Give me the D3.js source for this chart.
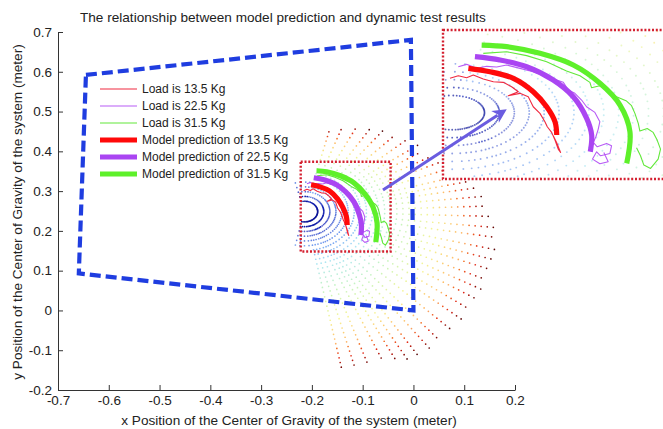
<!DOCTYPE html>
<html><head><meta charset="utf-8">
<script src="https://cdn.jsdelivr.net/npm/d3@7/dist/d3.min.js"></script>
<style>
body{margin:0;background:#fff}
svg{display:block}
text{font-family:"Liberation Sans",Arial,sans-serif;fill:#222}
</style></head>
<body><svg id="chart" width="663" height="429"></svg>
<script>
// ---------------- data ----------------
const titleText = "The relationship between model prediction and dynamic test results";
const xLabel = "x Position of the Center of Gravity of the system (meter)";
const yLabel = "y Position of the Center of Gravity of the system (meter)";
const xTicks = [-0.7,-0.6,-0.5,-0.4,-0.3,-0.2,-0.1,0,0.1,0.2];
const yTicks = [-0.2,-0.1,0,0.1,0.2,0.3,0.4,0.5,0.6,0.7];

// workspace boundary (blue dashed)
const workspaceX = [-0.645,-0.005,0.0,-0.659];
const workspaceY = [0.592,0.680,0.0,0.093];

// fan of simulated CoG positions (polar grid around a centre)
const fanCenter = [-0.2146, 0.2487];
const fanAngles = [104,96,88,82,
  76.5,70.7,64.3,58.2,52.8,47.2,41.9,36.8,33.1,29.0,24.9,20.7,16.4,13.2,10.0,6.2,2.2,
  -1.9,-6.1,-9.8,-14.3,-18.0,-21.7,-25.6,-29.3,-33.0,-37.1,-41.2,-45.8,-50.6,-54.4,
  -58.3,-61.4,-64.3,-67.7,-72.0,-75.8,-79.5,
  -84,-90,-96,-102];
const fanReach = [0.40,0.40,0.40,0.40,
  0.2175,0.226,0.240,0.243,0.254,0.263,0.275,0.280,0.276,0.289,0.306,0.319,0.330,0.337,0.3445,0.3512,0.3564,
  0.3622,0.3788,0.3841,0.3885,0.3892,0.3944,0.3945,0.4008,0.4059,0.4098,0.4120,0.4135,0.4219,0.4266,
  0.4221,0.4229,0.4206,0.4091,0.4076,0.4095,0.4078,
  0.41,0.41,0.41,0.41];
const fanShown = [0.21,0.21,0.21,0.21,
  1,1,1,1,1,1,1,1,1,1,1,1,1,1,1,1,1,
  1,1,1,1,1,1,1,1,1,1,1,1,1,1,
  1,1,1,1,1,1,1,
  0.21,0.21,0.21,0.21];
const fanRadii = [0.026,0.038,0.050,0.062,0.074,0.086,0.098,0.110,0.122,0.134,0.146,0.158,
  0.170,0.182,0.194,0.206,0.218,0.230,0.242,0.254,0.266,0.278,0.290,0.302,0.314,0.326,
  0.338,0.350,0.362,0.374,0.386,0.398,0.410,0.422,0.434];

// model predictions (thick)
const model135 = [[-0.2016,0.3159],[-0.1842,0.3107],[-0.1654,0.3007],[-0.1494,0.2804],[-0.1386,0.2576],[-0.1319,0.2349],[-0.1305,0.2147]];
const model225 = [[-0.1963,0.3335],[-0.1761,0.3285],[-0.1547,0.3183],[-0.1333,0.2981],[-0.1172,0.2728],[-0.1064,0.2400],[-0.1024,0.2147],[-0.1035,0.1893]];
const model315 = [[-0.1909,0.3512],[-0.1708,0.3487],[-0.1440,0.3386],[-0.1172,0.3209],[-0.0957,0.2931],[-0.0796,0.2602],[-0.0716,0.2197],[-0.0742,0.1717]];

// dynamic test results (thin)
const load135 = [[-0.2164,0.3007],[-0.2097,0.3047],[-0.2030,0.3017],[-0.1976,0.3057],[-0.1896,0.2996],[-0.1815,0.2956],
  [-0.1735,0.2946],[-0.1668,0.2880],[-0.1614,0.2804],[-0.1695,0.2743],[-0.1601,0.2779],[-0.1534,0.2728],[-0.1494,0.2576],
  [-0.1440,0.2475],[-0.1400,0.2349],[-0.1381,0.2273],[-0.1346,0.2187],[-0.1319,0.2070],[-0.1293,0.1934],[-0.1274,0.1883],
  [-0.1306,0.2035],[-0.1333,0.2136]];
const load225 = [[-0.2097,0.3183],[-0.2030,0.3219],[-0.1949,0.3158],[-0.1869,0.3189],[-0.1788,0.3178],[-0.1708,0.3209],
  [-0.1601,0.3158],[-0.1494,0.3108],[-0.1360,0.3017],[-0.1252,0.2946],[-0.1212,0.2829],[-0.1159,0.2779],[-0.1105,0.2678],
  [-0.1065,0.2576],[-0.0998,0.2490],[-0.0958,0.2349],[-0.0971,0.2237],[-0.0990,0.2121],[-0.1011,0.2035],[-0.0979,0.1969],
  [-0.0904,0.2020],[-0.0864,0.1984],[-0.0877,0.1868],[-0.0952,0.1832],[-0.0984,0.1893],[-0.1017,0.1782],[-0.0958,0.1711],
  [-0.0891,0.1741],[-0.0926,0.1883]];
const load315 = [[-0.1896,0.3386],[-0.1708,0.3411],[-0.1547,0.3351],[-0.1386,0.3259],[-0.1226,0.3118],[-0.1118,0.3047],
  [-0.1038,0.2946],[-0.1025,0.2865],[-0.0958,0.2895],[-0.0904,0.2824],[-0.0824,0.2728],[-0.0743,0.2662],[-0.0703,0.2592],
  [-0.0676,0.2475],[-0.0649,0.2323],[-0.0636,0.2207],[-0.0577,0.2247],[-0.0529,0.2187],[-0.0497,0.2070],[-0.0470,0.1934],
  [-0.0489,0.1782],[-0.0550,0.1640],[-0.0604,0.1691],[-0.0631,0.1832],[-0.0663,0.1954]];

const legendLabels = ["Load is 13.5 Kg","Load is 22.5 Kg","Load is 31.5 Kg",
  "Model prediction of 13.5 Kg","Model prediction of 22.5 Kg","Model prediction of 31.5 Kg"];

// zoomed region and arrow
const zoomX = [-0.222,-0.045];
const zoomY = [0.148,0.374];
const arrowFrom = [-0.060,0.3028];   // main axes
const arrowTo = [-0.1707,0.2537];    // inset axes

// ---------------- styles ----------------
const cRed="#ff0a0a", cPurple="#aa45f2", cGreen="#5ef02a";
const cRedThin="#f02a40", cPurpleThin="#b85cf5", cGreenThin="#62e83a";
const fanColor = d3.scaleLinear()
  .domain([0,0.12,0.22,0.32,0.5,0.68,0.82,0.92,1])
  .range(["#000070","#1424b8","#4a86ee","#8fdcf0","#b4f0a8","#f2f070","#ffa030","#e02414","#500000"])
  .clamp(true);

const svg = d3.select("#chart");
const x = d3.scaleLinear().domain([-0.7,0.2]).range([58,515]);
const y = d3.scaleLinear().domain([-0.2,0.7]).range([390,32]);
const xi = d3.scaleLinear().domain(zoomX).range([443,663]);
const yi = d3.scaleLinear().domain(zoomY).range([179,30]);

const fanDots=[];
fanAngles.forEach((a,i)=>{
  const rad=a*Math.PI/180;
  fanRadii.forEach(r=>{
    if(r<=fanReach[i]*fanShown[i]+1e-9){
      fanDots.push({x:fanCenter[0]+r*Math.cos(rad), y:fanCenter[1]+r*Math.sin(rad), t:Math.min(1,r/fanReach[i])});
    }
  });
});

const defs = svg.append("defs");
defs.append("clipPath").attr("id","plotclip").append("rect").attr("x",58).attr("y",32).attr("width",457).attr("height",358);
defs.append("clipPath").attr("id","insetclip").append("rect").attr("x",443).attr("y",30).attr("width",220).attr("height",149);

function drawData(g, sx, sy, dotR, dotOp){
  g.selectAll("circle.fan").data(fanDots).join("circle").attr("class","fan")
    .attr("cx",d=>sx(d.x)).attr("cy",d=>sy(d.y)).attr("r",dotR).attr("fill",d=>fanColor(d.t))
    .attr("fill-opacity",d=>Math.min(1,dotOp*(d.t>0.85||d.t<0.12?1.35:1)));
  const line = d3.line().x(d=>sx(d[0])).y(d=>sy(d[1]));
  const smooth = d3.line().x(d=>sx(d[0])).y(d=>sy(d[1])).curve(d3.curveCatmullRom);
  [[load135,cRedThin],[load225,cPurpleThin],[load315,cGreenThin]].forEach(([d,c])=>{
    g.append("path").attr("d",line(d)).attr("fill","none").attr("stroke",c).attr("stroke-width",1.1).attr("stroke-linejoin","round");
  });
  [[model135,cRed],[model225,cPurple],[model315,cGreen]].forEach(([d,c])=>{
    g.append("path").attr("d",smooth(d)).attr("fill","none").attr("stroke",c).attr("stroke-width",5.2).attr("stroke-linecap","butt");
  });
}

// main plot
const main = svg.append("g").attr("clip-path","url(#plotclip)");
drawData(main, x, y, 0.85, 0.75);

// workspace polygon
const ws = workspaceX.map((v,i)=>[v,workspaceY[i]]);
svg.append("path").attr("d", d3.line().x(d=>x(d[0])).y(d=>y(d[1]))(ws.concat([ws[0]])))
  .attr("fill","none").attr("stroke","#1f3de0").attr("stroke-width",4.2).attr("stroke-dasharray","11 5");

// legend
const lg = svg.append("g");
const legColors=[cRedThin,cPurpleThin,cGreenThin,cRed,cPurple,cGreen];
legendLabels.forEach((t,i)=>{
  const yy=89+i*17;
  lg.append("line").attr("x1",100).attr("x2",137).attr("y1",yy).attr("y2",yy)
    .attr("stroke",legColors[i]).attr("stroke-width",i<3?1.2:5);
  lg.append("text").attr("x",142).attr("y",yy).attr("dy","0.35em").style("font-size","12px").text(t);
});

// red dotted zoom box in main
svg.append("rect").attr("x",x(zoomX[0])).attr("y",y(zoomY[1]))
  .attr("width",x(zoomX[1])-x(zoomX[0])).attr("height",y(zoomY[0])-y(zoomY[1]))
  .attr("fill","none").attr("stroke","#d42030").attr("stroke-width",2.4).attr("stroke-dasharray","2 1.8");

// axes
const ax = svg.append("g").attr("transform","translate(0,390)")
  .call(d3.axisBottom(x).tickValues(xTicks).tickSize(-5).tickSizeOuter(0).tickPadding(5).tickFormat(d=>String(d)));
const ay = svg.append("g").attr("transform","translate(58,0)")
  .call(d3.axisLeft(y).tickValues(yTicks).tickSize(-5).tickSizeOuter(0).tickPadding(6).tickFormat(d=>String(d)));
[ax,ay].forEach(a=>{
  a.selectAll("path,line").attr("stroke","#333").attr("stroke-width",1);
  a.selectAll("text").style("font-size","13.5px").style("font-family",'"Liberation Sans",Arial,sans-serif').attr("fill","#222");
});

svg.append("text").attr("x",80).attr("y",22).style("font-size","13.6px").text(titleText);
svg.append("text").attr("x",289).attr("y",425).attr("text-anchor","middle").style("font-size","13.6px").text(xLabel);
svg.append("text").attr("transform","translate(22,212) rotate(-90)").attr("text-anchor","middle").style("font-size","13.6px").text(yLabel);

// inset
svg.append("rect").attr("x",443).attr("y",30).attr("width",220).attr("height",149).attr("fill","#fff");
const inset = svg.append("g").attr("clip-path","url(#insetclip)");
drawData(inset, xi, yi, 0.95, 0.5);
svg.append("rect").attr("x",443).attr("y",30).attr("width",222).attr("height",149)
  .attr("fill","none").attr("stroke","#d42030").attr("stroke-width",2.4).attr("stroke-dasharray","2 1.8");

// arrow
const ax0=x(arrowFrom[0]), ay0=y(arrowFrom[1]), ax1=xi(arrowTo[0]), ay1=yi(arrowTo[1]);
const ang=Math.atan2(ay1-ay0, ax1-ax0), L=14, W=7;
const bx=ax1-L*Math.cos(ang), by=ay1-L*Math.sin(ang);
svg.append("line").attr("x1",ax0).attr("y1",ay0).attr("x2",bx+3*Math.cos(ang)).attr("y2",by+3*Math.sin(ang))
  .attr("stroke","#6a5ce0").attr("stroke-width",3);
svg.append("path").attr("d",`M${ax1},${ay1}L${bx-W*Math.sin(ang)},${by+W*Math.cos(ang)}L${bx+4*Math.cos(ang)},${by+4*Math.sin(ang)}L${bx+W*Math.sin(ang)},${by-W*Math.cos(ang)}Z`)
  .attr("fill","#6a5ce0");
</script></body></html>
